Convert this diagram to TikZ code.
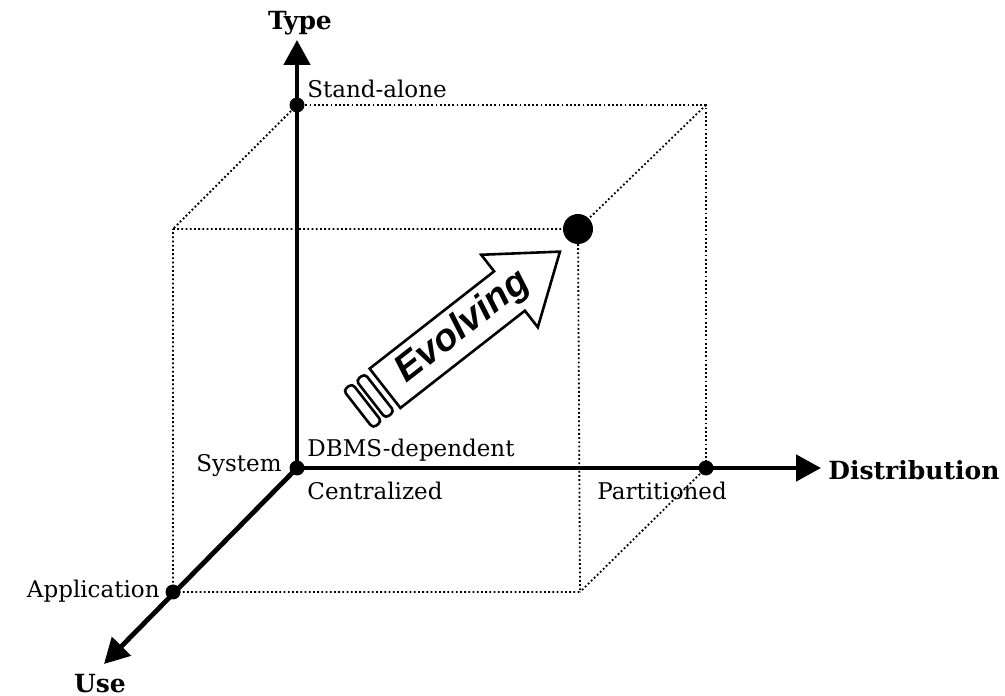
\documentclass[tikz,border=0pt]{standalone}
\usepackage{fontspec}
\setmainfont{DejaVu Serif}
\newfontfamily\evfont{Liberation Sans}
\usetikzlibrary{arrows.meta,positioning}

\tikzset{
  axis/.style={line width=2.4pt,-{Triangle[length=12.5pt,width=13pt]}},
  edge/.style={line width=0.9pt,dash pattern=on 0.9pt off 1.2pt},
  dot/.style={circle,fill=black,inner sep=0pt,minimum size=7.5pt},
  bigdot/.style={circle,fill=black,inner sep=0pt,minimum size=15pt},
  lbl/.style={font=\fontsize{11.5}{13}\selectfont,inner sep=0pt},
  axlbl/.style={font=\fontsize{12.5}{14}\selectfont\bfseries,inner sep=0pt},
  outline/.style={line width=1.3pt,line join=miter}
}

\begin{document}
\begin{tikzpicture}[x=0.5pt,y=0.5pt]
  \useasboundingbox (0,0) rectangle (1005,695);

  % corners of the cube
  \coordinate (o) at (297,227);
  \coordinate (s) at (297,590);
  \coordinate (p) at (706,227);
  \coordinate (a) at (173,103);
  \coordinate (backtr) at (706,590);
  \coordinate (fronttl) at (173,466);
  \coordinate (fronttr) at (578,466);
  \coordinate (frontbr) at (580,103);
  % ends of the axes
  \coordinate (typeend) at (297,655);
  \coordinate (distend) at (821,227);
  \coordinate (useend) at (104,31);

  % dotted edges
  \draw[edge] (s) -- (backtr) -- (p);
  \draw[edge] (backtr) -- (fronttr);
  \draw[edge] (p) -- (frontbr);
  \draw[edge] (s) -- (fronttl);
  \draw[edge] (fronttl) -- (fronttr) -- (frontbr) -- (a) -- cycle;

  % axes
  \draw[axis] (o) -- (typeend);
  \draw[axis] (o) -- (distend);
  \draw[axis] (o) -- (useend);

  \node[dot] (origin) at (o) {};
  \node[dot] (standalone) at (s) {};
  \node[dot] (partitioned) at (p) {};
  \node[dot] (application) at (a) {};
  \node[bigdot] (target) at (fronttr) {};

  % labels
  \node[axlbl,anchor=base] (typelbl) at (300,665) {Type};
  \node[axlbl,anchor=base west] (distlbl) at (828,215) {Distribution};
  \node[axlbl,anchor=base] (uselbl) at (100,3) {Use};
  \node[lbl,anchor=base west] (salbl) at (307,597) {Stand-alone};
  \node[lbl,anchor=base west] (dbmslbl) at (307,238) {DBMS-dependent};
  \node[lbl,anchor=base east] (syslbl) at (282,223) {System};
  \node[lbl,anchor=base west] (centlbl) at (307,195) {Centralized};
  \node[lbl,anchor=base west] (partlbl) at (597,195) {Partitioned};
  \node[lbl,anchor=base east] (applbl) at (160,97) {Application};

  % evolving arrow
  \begin{scope}[shift={(385,306.7)},rotate=38]
    \draw[outline,fill=white] (0,-25) -- (158,-25) -- (158,-46) -- (222,0)
      -- (158,46) -- (158,25) -- (0,25) -- cycle;
    \node[transform shape,font=\evfont\fontsize{19}{21}\selectfont\bfseries\itshape]
      (evolving) at (99,0) {Evolving};
    \draw[outline,rounded corners=2pt] (-18,-24) rectangle (-7,24);
    \draw[outline,rounded corners=2pt] (-34,-24) rectangle (-23,24);
  \end{scope}
\end{tikzpicture}
\end{document}
